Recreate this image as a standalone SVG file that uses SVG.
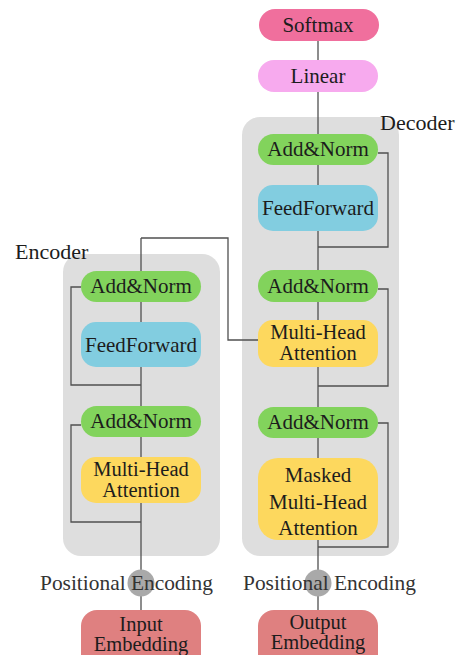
<svg xmlns="http://www.w3.org/2000/svg" width="465" height="655" viewBox="0 0 465 655">
<style>
text{font-family:"Liberation Serif","Times New Roman",serif;fill:#1c1c1c;text-anchor:middle;font-size:21px}
.lbl{text-anchor:start;font-size:22px}
.pe{text-anchor:start;font-size:21.4px;fill:#333}
.two{font-size:20.5px}
.frame{fill:#dedede}
.an{fill:#82d35c}
.ff{fill:#82cde0}
.mha{fill:#fdd85e}
.emb{fill:#df8080}
.pc{fill:#a9a9a9}
.wire{fill:none;stroke:#505050;stroke-width:1.3}
</style>
<rect id="encoder-frame" class="frame" x="63" y="254" width="157" height="302" rx="18"/>
<rect id="decoder-frame" class="frame" x="242" y="117" width="157" height="439" rx="18"/>
<g id="connectors">
<path class="wire" d="M318 41V610"/>
<path class="wire" d="M141 238V610"/>
<path class="wire" d="M141 238H228V340H258"/>
<path class="wire" d="M378 153H388V247H318"/>
<path class="wire" d="M378 289H388V386H318"/>
<path class="wire" d="M378 423H388V547H318"/>
<path class="wire" d="M81 287H71V385H141"/>
<path class="wire" d="M81 425H71V522H141"/>
</g>
<g id="encoder-label"><text class="lbl" x="15" y="259">Encoder</text></g>
<g id="decoder-label"><text class="lbl" x="380" y="130">Decoder</text></g>
<g id="softmax"><rect x="259" y="9" width="120" height="32" rx="16" fill="#f06f9d"/><text x="318" y="32">Softmax</text></g>
<g id="linear"><rect x="258" y="60" width="120" height="32" rx="16" fill="#f7aaee"/><text x="318" y="83">Linear</text></g>
<g id="dec-addnorm-3"><rect class="an" x="258" y="134" width="120" height="31" rx="15.5"/><text x="318" y="156">Add&amp;Norm</text></g>
<g id="dec-feedforward"><rect class="ff" x="258" y="185" width="120" height="46" rx="15"/><text x="318" y="215">FeedForward</text></g>
<g id="dec-addnorm-2"><rect class="an" x="258" y="270" width="120" height="32" rx="16"/><text x="318" y="293">Add&amp;Norm</text></g>
<g id="dec-mha"><rect class="mha" x="258" y="320" width="120" height="47" rx="15"/><text class="two" x="318" y="339">Multi-Head</text><text class="two" x="318" y="360">Attention</text></g>
<g id="dec-addnorm-1"><rect class="an" x="258" y="407" width="120" height="31" rx="15.5"/><text x="318" y="429">Add&amp;Norm</text></g>
<g id="dec-masked-mha"><rect class="mha" x="258" y="458" width="120" height="82" rx="20"/><text x="318" y="482">Masked</text><text x="318" y="509">Multi-Head</text><text x="318" y="535">Attention</text></g>
<g id="dec-posenc"><circle class="pc" cx="318" cy="583" r="13.5"/><text class="pe" x="243" y="590">Positional Encoding</text></g>
<g id="output-embedding"><rect class="emb" x="258" y="610" width="120" height="60" rx="16"/><text class="two" x="318" y="629">Output</text><text class="two" x="318" y="649">Embedding</text></g>
<g id="enc-addnorm-2"><rect class="an" x="81" y="271" width="120" height="31" rx="15.5"/><text x="141" y="293">Add&amp;Norm</text></g>
<g id="enc-feedforward"><rect class="ff" x="81" y="322" width="120" height="45" rx="15"/><text x="141" y="352">FeedForward</text></g>
<g id="enc-addnorm-1"><rect class="an" x="81" y="406" width="120" height="31" rx="15.5"/><text x="141" y="428">Add&amp;Norm</text></g>
<g id="enc-mha"><rect class="mha" x="81" y="457" width="120" height="46" rx="15"/><text class="two" x="141" y="476">Multi-Head</text><text class="two" x="141" y="497">Attention</text></g>
<g id="enc-posenc"><circle class="pc" cx="141" cy="583" r="13.5"/><text class="pe" x="40" y="590">Positional Encoding</text></g>
<g id="input-embedding"><rect class="emb" x="81" y="610" width="120" height="60" rx="16"/><text class="two" x="141" y="631">Input</text><text class="two" x="141" y="651">Embedding</text></g>
</svg>
